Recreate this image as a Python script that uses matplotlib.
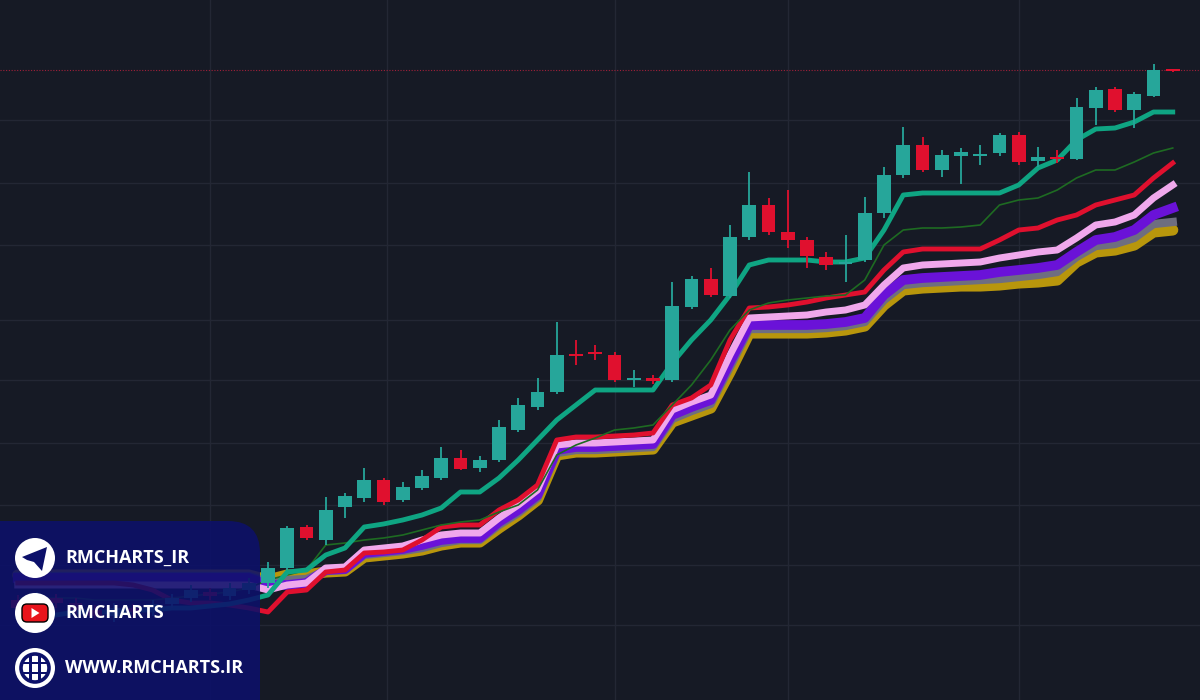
import matplotlib
matplotlib.use("Agg")
import matplotlib.pyplot as plt
import numpy as np
from matplotlib.patches import FancyBboxPatch, Circle, Polygon, Rectangle

# Candles, read as screen heights (pixels from top); converted to price below
opens = [600, 605, 598, 603, 610, 616, 608, 612, 604, 598, 592, 596, 590,
         583, 568, 527, 540, 507, 498, 480, 500, 488, 478, 458, 468, 460, 430, 407, 392,
         354, 352, 355, 380, 378, 380, 307, 279, 296, 237, 205, 232, 240, 257, 264, 260,
         213, 175, 145, 170, 156, 156, 153, 135, 161, 157, 159, 108, 89, 110, 96, 70]
closes = [608, 598, 603, 610, 616, 608, 612, 604, 598, 590, 596, 588, 583,
          568, 528, 538, 510, 496, 480, 502, 487, 476, 458, 469, 460, 427, 405, 392, 355,
          356, 354, 380, 378, 381, 306, 279, 295, 237, 205, 232, 240, 256, 265, 262, 213,
          175, 145, 170, 155, 152, 154, 135, 162, 157, 159, 107, 90, 110, 94, 70, 71]
highs = [595, 592, 594, 598, 605, 603, 604, 600, 594, 585, 588, 583, 578,
         562, 526, 525, 497, 493, 468, 478, 482, 470, 447, 450, 456, 420, 398, 378, 322,
         340, 345, 352, 370, 375, 282, 276, 268, 225, 172, 198, 190, 237, 252, 235, 197,
         167, 127, 137, 150, 148, 145, 133, 132, 147, 150, 98, 87, 87, 92, 64, 69]
lows = [612, 610, 608, 615, 620, 622, 618, 616, 608, 602, 600, 600, 594,
        588, 570, 540, 545, 518, 502, 505, 502, 490, 480, 470, 472, 462, 432, 410, 394,
        365, 360, 382, 387, 384, 382, 309, 297, 298, 240, 235, 248, 268, 270, 282, 262,
        218, 178, 172, 177, 184, 165, 156, 165, 167, 163, 160, 125, 112, 128, 97, 72]

# Trailing-stop lines (screen heights)
teal = [615, 615, 615, 612, 612, 612, 610, 610, 608, 608, 606, 604, 600,
        595, 572, 570, 555, 548, 527, 524, 520, 515, 508, 492, 492, 478, 460, 440, 420,
        405, 390, 390, 390, 390, 363, 340, 320, 295, 265, 260, 260, 260, 262, 262, 258,
        230, 195, 193, 193, 193, 193, 193, 185, 168, 160, 140, 129, 128, 122, 112, 112]
thin_green = [598, 598, 598, 598, 600, 600, 600, 600, 598, 596, 594, 592, 588,
              580, 575, 570, 545, 543, 540, 538, 535, 530, 525, 522, 520, 512, 505, 490, 455,
              445, 438, 430, 428, 425, 405, 385, 360, 330, 310, 303, 300, 298, 296, 295, 280,
              245, 230, 228, 228, 227, 225, 205, 200, 198, 190, 178, 170, 170, 162, 153, 148]
red = [583, 583, 583, 583, 583, 583, 585, 590, 600, 603, 603, 605, 608,
       612, 592, 590, 572, 570, 553, 552, 550, 540, 527, 525, 525, 510, 500, 485, 440,
       437, 437, 436, 435, 433, 405, 398, 385, 340, 308, 307, 305, 302, 298, 295, 292,
       270, 252, 249, 249, 249, 249, 240, 230, 228, 220, 215, 205, 200, 195, 178, 163]
pink = [585, 585, 585, 585, 585, 585, 585, 585, 585, 585, 585, 585, 585,
        590, 585, 583, 568, 567, 550, 548, 546, 540, 535, 533, 533, 518, 505, 490, 445,
        443, 443, 442, 441, 440, 410, 402, 395, 355, 318, 317, 316, 315, 312, 310, 305,
        285, 268, 265, 264, 263, 262, 258, 255, 252, 250, 238, 225, 222, 215, 198, 185]
purple = [578, 578, 578, 578, 578, 578, 578, 578, 578, 578, 578, 578, 578,
          585, 585, 583, 570, 569, 553, 551, 549, 545, 540, 538, 538, 522, 510, 495, 450,
          447, 447, 446, 445, 444, 415, 407, 400, 362, 325, 325, 325, 325, 324, 322, 318,
          295, 280, 278, 277, 276, 275, 272, 270, 268, 265, 252, 240, 237, 230, 215, 208]
gray = [576, 576, 576, 576, 576, 576, 576, 576, 576, 576, 576, 576, 576,
        582, 580, 579, 571, 570, 555, 553, 551, 548, 543, 540, 540, 525, 513, 498, 453,
        450, 450, 449, 448, 447, 419, 411, 404, 367, 329, 329, 329, 329, 328, 326, 322,
        300, 285, 283, 282, 281, 280, 279, 277, 275, 272, 257, 246, 244, 238, 224, 222]
gold = [575, 575, 575, 575, 575, 575, 575, 575, 575, 575, 575, 575, 575,
        580, 575, 575, 572, 571, 557, 555, 553, 550, 545, 542, 542, 528, 515, 500, 455,
        452, 452, 451, 450, 449, 422, 415, 408, 372, 333, 333, 333, 333, 332, 330, 326,
        305, 290, 288, 287, 286, 286, 285, 283, 282, 280, 262, 252, 250, 245, 232, 230]
last_price = 630
h_grid = [580, 517, 455, 380, 320, 257, 195, 135, 75]
links = ["RMCHARTS_IR", "RMCHARTS", "WWW.RMCHARTS.IR"]

H = 700
to_p = lambda a: H - np.array(a, dtype=float)
o, c, hi, lo = to_p(opens), to_p(closes), to_p(highs), to_p(lows)
x = np.arange(len(opens))

BG = "#161a25"
UP, DN = "#26a69a", "#e0102e"
NAVY = "#0c106a"

fig = plt.figure(figsize=(12, 7), dpi=100, facecolor=BG)
ax = fig.add_axes([0, 0, 1, 1], facecolor=BG)
ax.set_xlim(-17.75 / 19.25, (1200 - 17.75) / 19.25)
ax.set_ylim(0, H)
ax.axis("off")

for g in h_grid:
    ax.axhline(g, color="#232734", lw=1, zorder=0)
for gx in [10, 19.2, 31, 40, 52]:
    ax.axvline(gx, color="#232734", lw=1, zorder=0)

ax.axhline(last_price, color="#a0203a", lw=0.8, ls=(0, (1, 1.5)), zorder=1)

# bands (back to front)
ax.plot(x, to_p(gold), color="#b8960c", lw=8, solid_capstyle="round", zorder=2)
ax.plot(x, to_p(gray), color="#6e6e80", lw=6, zorder=2.1)
ax.plot(x, to_p(purple), color="#6a12d8", lw=7, zorder=2.2)
ax.plot(x, to_p(pink), color="#f0a8ec", lw=5, zorder=2.3)
ax.plot(x, to_p(red), color="#e0102e", lw=3.5, zorder=2.4)
ax.plot(x, to_p(thin_green), color="#1e6b22", lw=1.2, zorder=2.5)
ax.plot(x, to_p(teal), color="#0fa583", lw=3.5, zorder=2.6)

# candles
colors = np.where(c >= o, UP, DN)
ax.vlines(x, lo, hi, colors=colors, lw=1.3, zorder=3)
bottom = np.minimum(o, c)
height = np.maximum(np.abs(c - o), 1.6)
ax.bar(x, height, bottom=bottom, width=0.72, color=colors, zorder=3.1)

# overlay in pixel space for the social box
ov = fig.add_axes([0, 0, 1, 1], facecolor="none")
ov.set_xlim(0, 1200)
ov.set_ylim(700, 0)
ov.axis("off")

ov.add_patch(FancyBboxPatch((-40, 521), 300, 240, boxstyle="round,pad=0,rounding_size=32",
                            fc=NAVY, ec="none", alpha=0.88, zorder=10))

ys = [558, 613, 668]
for yy, label in zip(ys, links):
    ov.add_patch(Circle((35, yy), 20, fc="white", ec="none", zorder=11))
    ov.text(65, yy, label, color="white", fontsize=13, fontweight="bold",
            va="center", ha="left", zorder=12, family="Open Sans")

# telegram glyph
y0 = ys[0]
ov.add_patch(Polygon([(22, y0 - 1), (47, y0 - 11), (42, y0 + 13), (34, y0 + 4), (27, y0 + 2)],
                     fc=NAVY, zorder=12))
# youtube glyph
y1 = ys[1]
ov.add_patch(FancyBboxPatch((22, y1 - 9), 26, 18, boxstyle="round,pad=0,rounding_size=5",
                            fc="#e8141c", zorder=12))
ov.add_patch(Polygon([(31.5, y1 - 5), (31.5, y1 + 5), (39.5, y1)], fc="white", zorder=13))
# globe glyph
y2 = ys[2]
ov.add_patch(Circle((35, y2), 14, fc="none", ec=NAVY, lw=2.6, zorder=12))
for dy in (-5, 5):
    ov.add_patch(Rectangle((21, y2 + dy - 1.3), 28, 2.6, fc=NAVY, zorder=12))
for dx in (-4.5, 4.5):
    ov.add_patch(Rectangle((35 + dx - 1.3, y2 - 14), 2.6, 28, fc=NAVY, zorder=12))

fig.savefig("out.png", dpi=100, facecolor=BG)
